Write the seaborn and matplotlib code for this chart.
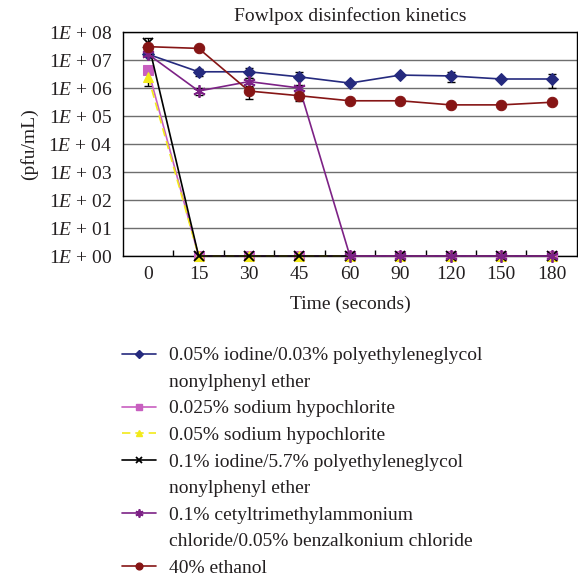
# %%
import numpy as np
import matplotlib.pyplot as plt
import seaborn as sns
from matplotlib.lines import Line2D
from matplotlib.ticker import LogLocator, FuncFormatter, FixedLocator

# %%
tempos = ['0', '15', '30', '45', '60', '90', '120', '150', '180']

iodo_003 = [1.6e7, 3.8e6, 3.8e6, 2.5e6, 1.5e6, 2.9e6, 2.7e6, 2.1e6, 2.1e6]
hipo_0025 = [4.4e6, 1, 1, 1, 1, 1, 1, 1, 1]
hipo_005 = [2.5e6, 1, 1, 1, 1, 1, 1, 1, 1]
iodo_57 = [4.2e7, 1, 1, 1, 1, 1, 1, 1, 1]
cetil = [1.6e7, 7.8e5, 1.7e6, 1.0e6, 1, 1, 1, 1, 1]
etanol = [3.0e7, 2.6e7, 7.8e5, 5.3e5, 3.5e5, 3.5e5, 2.5e5, 2.5e5, 3.1e5]

erro_iodo_003 = [0, 1.0e6, 1.5e6, 1.2e6, 0, 0, 1.0e6, 0, 1.1e6]
erro_hipo_005 = [1.3e6, 0, 0, 0, 0, 0, 0, 0, 0]
erro_iodo_57 = [2.0e7, 0, 0, 0, 0, 0, 0, 0, 0]
erro_cetil = [0, 2.2e5, 6.0e5, 0, 0, 0, 0, 0, 0]
erro_etanol = [0, 0, 3.7e5, 1.8e5, 0, 0, 0, 0, 0]

rotulos = ['0.05% iodine/0.03% polyethyleneglycol', 'nonylphenyl ether',
           '0.025% sodium hypochlorite',
           '0.05% sodium hypochlorite',
           '0.1% iodine/5.7% polyethyleneglycol', 'nonylphenyl ether',
           '0.1% cetyltrimethylammonium', 'chloride/0.05% benzalkonium chloride',
           '40% ethanol']

# %%
sns.set_style('white')
plt.rcParams['font.family'] = ['Liberation Serif', 'DejaVu Serif']
plt.rcParams['mathtext.fontset'] = 'custom'
plt.rcParams['mathtext.it'] = 'Liberation Serif:italic'
plt.rcParams['mathtext.rm'] = 'Liberation Serif'

fig = plt.figure(figsize=(5.78, 5.77), dpi=100)
ax = fig.add_axes([0.2128, 0.5563, 0.7852, 0.3882])

pos = np.arange(len(tempos))
asterisco = (6, 2, 0)
series = [
    (iodo_003, erro_iodo_003, dict(color='#252a7e', marker='D', markersize=6.5, linestyle='-')),
    (hipo_0025, None, dict(color='#c85fc0', marker='s', markersize=6.5, linestyle='-')),
    (hipo_005, erro_hipo_005, dict(color='#f2ea1a', marker='^', markersize=7.5, linestyle=(0, (5, 3)))),
    (iodo_57, erro_iodo_57, dict(color='black', marker='x', markersize=7, linestyle='-', markeredgewidth=1.3)),
    (cetil, erro_cetil, dict(color='#7d2286', marker=asterisco, markersize=9, linestyle='-', markeredgewidth=1.3)),
    (etanol, erro_etanol, dict(color='#861515', marker='o', markersize=7.5, linestyle='-')),
]

handles = []
for valores, erros, estilo in series:
    if erros is not None:
        idx = [i for i, e in enumerate(erros) if e > 0]
        ax.errorbar(pos[idx], [valores[i] for i in idx],
                    yerr=[erros[i] for i in idx], fmt='none', ecolor='black',
                    elinewidth=1, capsize=3, capthick=1, zorder=2)
    sns.lineplot(x=pos, y=valores, ax=ax, sort=False, linewidth=1.2,
                 markeredgecolor=estilo['color'], clip_on=False, zorder=3, **estilo)
    leg_estilo = dict(estilo)
    leg_estilo['markersize'] = estilo['markersize'] * 0.65
    handles.append(Line2D([], [], linewidth=1.2, markeredgecolor=estilo['color'], **leg_estilo))

ax.set_yscale('log')
ax.set_ylim(1, 1e8)
ax.set_xlim(-0.5, 8.5)
ax.yaxis.set_major_locator(LogLocator(base=10, numticks=20))
ax.yaxis.set_minor_locator(FixedLocator([]))
ax.yaxis.set_major_formatter(FuncFormatter(lambda v, p: '1$\\mathit{E}$ + %02d' % round(np.log10(v))))
ax.grid(axis='y', color='#6e6e6e', linewidth=1)
ax.grid(axis='x', visible=False)
for s in ax.spines.values():
    s.set_color('black')
    s.set_linewidth(1)
ax.set_xticks(pos)
ax.set_xticklabels(tempos)
ax.set_xticks(np.arange(0.5, len(tempos) - 1, 1), minor=True)
ax.tick_params(axis='x', which='major', length=0, pad=7, labelsize=14, colors='#231f20')
ax.tick_params(axis='x', which='minor', direction='in', length=4, width=1, color='black', bottom=True)
ax.tick_params(axis='y', length=0, pad=8, labelsize=14, colors='#231f20')
ax.set_xlabel('Time (seconds)', fontsize=14, labelpad=9, color='#231f20')
ax.set_ylabel('(pfu/mL)', fontsize=14, labelpad=7, color='#231f20')
ax.set_title('Fowlpox disinfection kinetics', fontsize=14, pad=8, color='#231f20')

# linhas de continuação do texto da legenda
vazio = Line2D([], [], linestyle='none')
leg_handles = [handles[0], vazio, handles[1], handles[2], handles[3], vazio,
               handles[4], vazio, handles[5]]
fig.legend(leg_handles, rotulos, loc='upper left', bbox_to_anchor=(0.211, 0.399),
           frameon=False, fontsize=14, handlelength=1.75, handletextpad=0.65,
           labelspacing=0.46, borderpad=0, borderaxespad=0, labelcolor='#231f20')

fig.savefig('out.png', dpi=100)
